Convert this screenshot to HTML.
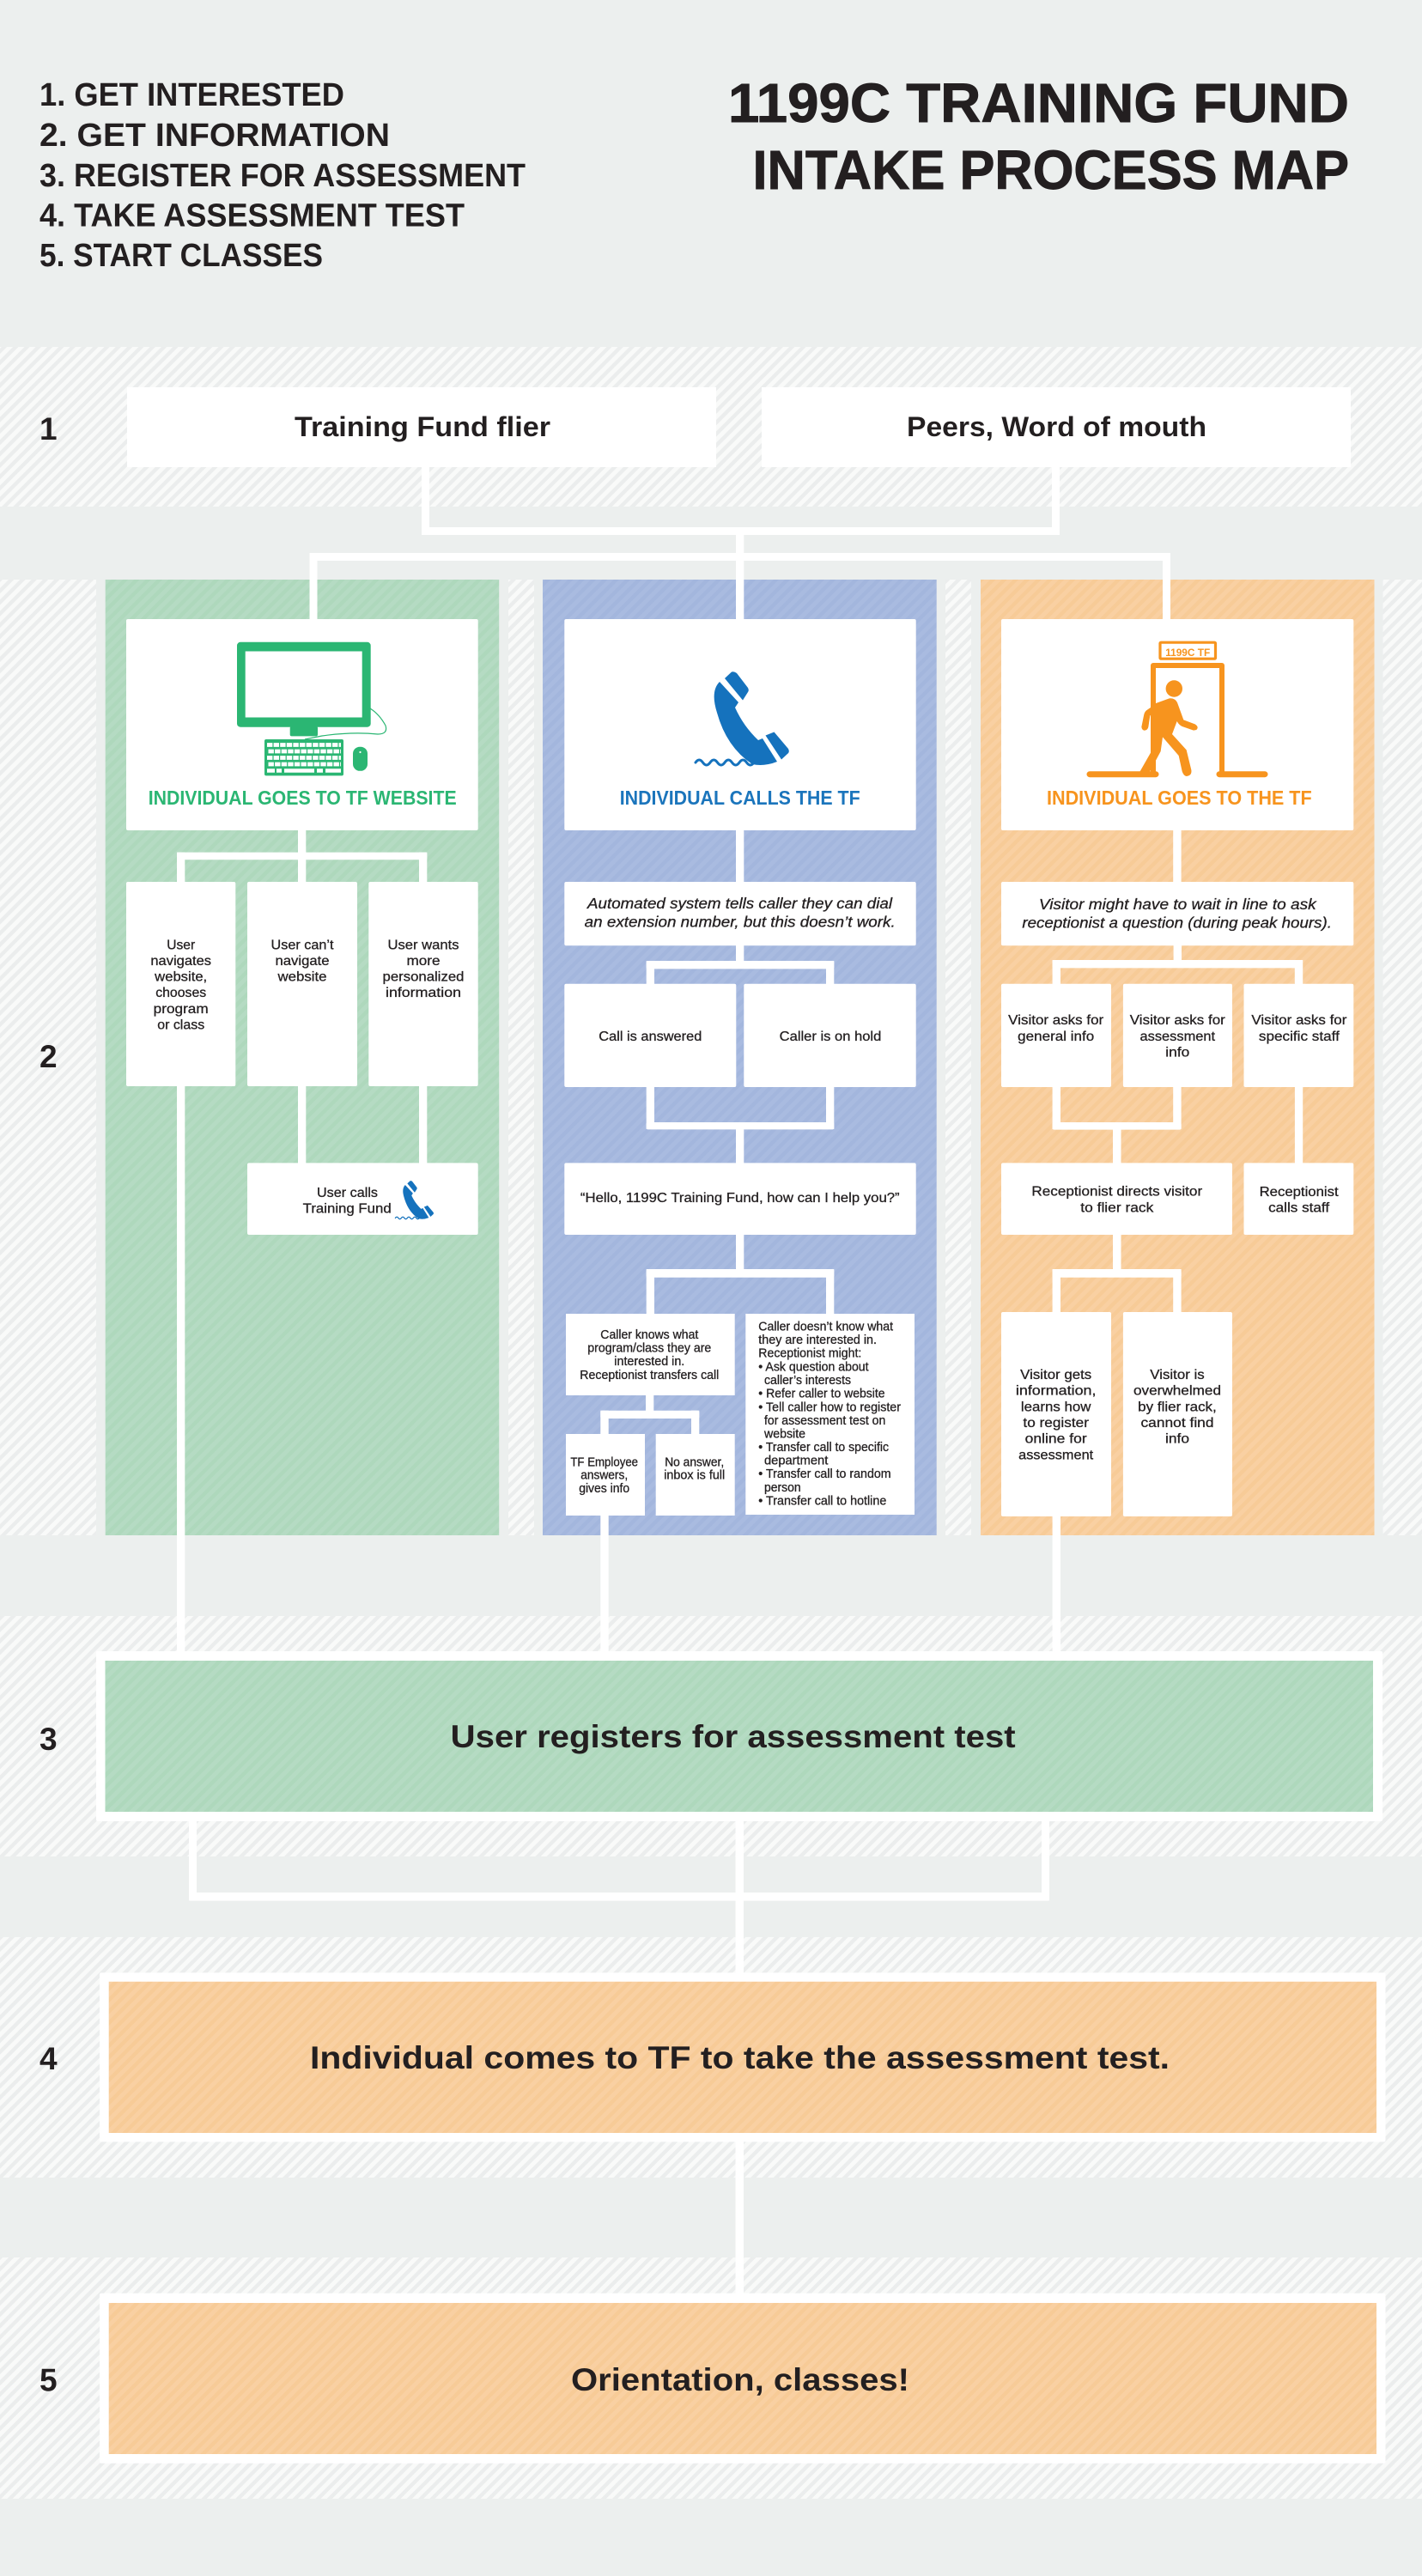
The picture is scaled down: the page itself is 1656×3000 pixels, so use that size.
<!DOCTYPE html>
<html><head><meta charset="utf-8"><title>1199C Training Fund Intake Process Map</title>
<style>
html,body{margin:0;padding:0;background:#ecefee}
svg{display:block}
text{font-family:"Liberation Sans",sans-serif;fill:#231f20}
.b{font-weight:700}
.s{font-size:16px;text-anchor:middle;stroke:#231f20;stroke-width:.3}
.t{font-size:14.5px;stroke:#231f20;stroke-width:.3}
.tm{font-size:14.5px;text-anchor:middle;stroke:#231f20;stroke-width:.3}
.i{font-size:17.5px;font-style:italic;stroke:#231f20;stroke-width:.3}
.h{font-size:38px;font-weight:700}
.n{font-size:37px;font-weight:700}
.tt{font-size:64px;font-weight:700;stroke:#231f20;stroke-width:.9}
.big{font-size:37px;font-weight:700;text-anchor:middle}
.m{font-size:32px;font-weight:700;text-anchor:middle}
.c{font-size:23.5px;font-weight:700}
</style></head><body>
<svg width="1656" height="3000" viewBox="0 0 1656 3000" xmlns="http://www.w3.org/2000/svg">
<defs>
<pattern id="h" width="9.4" height="9.4" patternUnits="userSpaceOnUse" patternTransform="rotate(45)"><rect width="9.4" height="9.4" fill="#ebeded"/><rect width="5" height="9.4" fill="#f9faf9"/></pattern>
<pattern id="g" width="9.4" height="9.4" patternUnits="userSpaceOnUse" patternTransform="rotate(45)"><rect width="9.4" height="9.4" fill="#aed8bc"/><rect width="5" height="9.4" fill="#b5dbc3"/></pattern>
<pattern id="u" width="9.4" height="9.4" patternUnits="userSpaceOnUse" patternTransform="rotate(45)"><rect width="9.4" height="9.4" fill="#a3b6dd"/><rect width="5" height="9.4" fill="#a9bbe0"/></pattern>
<pattern id="o" width="9.4" height="9.4" patternUnits="userSpaceOnUse" patternTransform="rotate(45)"><rect width="9.4" height="9.4" fill="#f7cb97"/><rect width="5" height="9.4" fill="#f9d0a2"/></pattern>
<g id="ph">
<path d="M844 790L852 782.5Q855 781.5 858 784L871 801Q872.5 804 871 806L865 815.5Z" fill="#1572bd"/>
<path d="M838 794L860 818L856 824Q866 846 883 862L888 860L905 887Q890 893 876 890Q846 870 835 830Q827 805 838 794Z" fill="#1572bd"/>
<path d="M891.5 856.5L901.5 852.5L918 872Q920 876 917 878L910 884.5Z" fill="#1572bd"/>
<path d="M810 888q4.25-6 8.5 0t8.5 0t8.5 0t8.5 0t8.5 0t8.5 0t8.5 0t8.5 0" fill="none" stroke="#1572bd" stroke-width="3" stroke-linecap="round"/>
</g>
</defs>
<rect width="1656" height="3000" fill="#ecefee"/>

<!-- bands -->
<g fill="url(#h)">
<rect x="0" y="404" width="1656" height="186"/>
<rect x="0" y="675" width="112" height="1113"/>
<rect x="592" y="675" width="30" height="1113"/>
<rect x="1101" y="675" width="30" height="1113"/>
<rect x="1610.5" y="675" width="45.5" height="1113"/>
<rect x="0" y="1882" width="1656" height="280"/>
<rect x="0" y="2256" width="1656" height="280"/>
<rect x="0" y="2629" width="1656" height="281"/>
</g>
<rect x="122.7" y="675" width="458.5" height="1113" fill="url(#g)"/>
<rect x="632" y="675" width="458.7" height="1113" fill="url(#u)"/>
<rect x="1142" y="675" width="458.5" height="1113" fill="url(#o)"/>

<!-- connectors -->
<g fill="#fff">
<rect x="491" y="544" width="9" height="79"/>
<rect x="1225" y="544" width="9" height="79"/>
<rect x="491" y="614" width="743" height="9" rx="1"/>
<rect x="857" y="623" width="9.3" height="98"/>
<rect x="360.5" y="644" width="1002.5" height="9" rx="1"/>
<rect x="360.5" y="644" width="9" height="77"/>
<rect x="1354" y="644" width="9" height="77"/>
<!-- green -->
<rect x="347" y="967" width="9.3" height="60"/>
<rect x="206" y="992.6" width="291.3" height="8.6" rx="2"/>
<rect x="206" y="992.6" width="9.3" height="34.4"/>
<rect x="488" y="992.6" width="9.3" height="34.4"/>
<rect x="206" y="1265" width="9.3" height="658"/>
<rect x="347" y="1265" width="9.3" height="90"/>
<rect x="488" y="1265" width="9.3" height="90"/>
<!-- blue -->
<rect x="857" y="967" width="9.3" height="60"/>
<rect x="857" y="1101" width="9.3" height="20"/>
<rect x="752.7" y="1119" width="218.6" height="9.4" rx="2"/>
<rect x="752.7" y="1119" width="9.3" height="27"/>
<rect x="962" y="1119" width="9.3" height="27"/>
<rect x="752.7" y="1266" width="9.3" height="49"/>
<rect x="962" y="1266" width="9.3" height="49"/>
<rect x="752.7" y="1307" width="218.6" height="8.4" rx="2"/>
<rect x="857" y="1315" width="9.3" height="40"/>
<rect x="857" y="1438" width="9.3" height="42"/>
<rect x="752.7" y="1478" width="218.6" height="9.7" rx="2"/>
<rect x="752.7" y="1478" width="9.3" height="52"/>
<rect x="962" y="1478" width="9.3" height="52"/>
<rect x="752" y="1625" width="9.3" height="20"/>
<rect x="699.3" y="1642.7" width="115" height="9.3" rx="2"/>
<rect x="699.3" y="1642.7" width="9.4" height="27.3"/>
<rect x="805" y="1642.7" width="9.3" height="27.3"/>
<rect x="699.3" y="1765" width="9.4" height="158"/>
<!-- orange -->
<rect x="1366.2" y="967" width="9.4" height="60"/>
<rect x="1366.6" y="1101" width="9.4" height="20"/>
<rect x="1225.6" y="1118" width="291.4" height="9.4" rx="2"/>
<rect x="1225.6" y="1118" width="9.4" height="28"/>
<rect x="1507.8" y="1118" width="9.4" height="28"/>
<rect x="1225.6" y="1266" width="9.4" height="49"/>
<rect x="1366.2" y="1266" width="9.4" height="49"/>
<rect x="1225.6" y="1307" width="150" height="8.6" rx="2"/>
<rect x="1296" y="1315" width="9.5" height="40"/>
<rect x="1507.9" y="1266" width="9.3" height="89"/>
<rect x="1296" y="1438" width="9.5" height="42"/>
<rect x="1225.6" y="1478" width="150" height="9.7" rx="2"/>
<rect x="1225.6" y="1478" width="9.4" height="51"/>
<rect x="1366.2" y="1478" width="9.4" height="51"/>
<rect x="1225.6" y="1766" width="9.4" height="157"/>
<!-- lower -->
<rect x="220" y="2121" width="9" height="92"/>
<rect x="1213" y="2121" width="9" height="92"/>
<rect x="220" y="2204" width="1002" height="9.6" rx="1"/>
<rect x="856.5" y="2121" width="9.5" height="177"/>
<rect x="856.5" y="2494" width="9.5" height="177"/>
</g>

<!-- frames -->
<rect x="112" y="1923" width="1498" height="198" fill="#fff" rx="2"/>
<rect x="122.5" y="1934" width="1476.5" height="176" fill="url(#g)"/>
<rect x="116" y="2297.4" width="1497.5" height="197" fill="#fff" rx="2"/>
<rect x="126.7" y="2307.8" width="1476.3" height="176.2" fill="url(#o)"/>
<rect x="116" y="2670.7" width="1497.5" height="198" fill="#fff" rx="2"/>
<rect x="126.7" y="2682" width="1476.3" height="176" fill="url(#o)"/>

<!-- white boxes -->
<g fill="#fff">
<rect x="148" y="451" width="686" height="93"/>
<rect x="887" y="451" width="686" height="93"/>
<rect x="147" y="721" width="409.7" height="246" rx="2"/>
<rect x="147" y="1027" width="127.3" height="238" rx="2"/>
<rect x="288" y="1027" width="128" height="238" rx="2"/>
<rect x="429.3" y="1027" width="127.4" height="238" rx="2"/>
<rect x="288" y="1354.4" width="268.7" height="83.6" rx="2"/>
<rect x="657.3" y="721" width="409.4" height="246" rx="2"/>
<rect x="657.3" y="1027" width="409.4" height="74.3" rx="2"/>
<rect x="657.3" y="1145.7" width="200" height="120.3" rx="2"/>
<rect x="866.3" y="1145.7" width="200.4" height="120.3" rx="2"/>
<rect x="657.3" y="1354.4" width="409.4" height="83.6" rx="2"/>
<rect x="659" y="1530" width="196.7" height="95"/>
<rect x="868.3" y="1530" width="196.7" height="234"/>
<rect x="659" y="1670" width="92" height="95"/>
<rect x="763.7" y="1670" width="92" height="95"/>
<rect x="1166" y="721" width="410.3" height="246" rx="2"/>
<rect x="1166" y="1027" width="410.3" height="74.3" rx="2"/>
<rect x="1166" y="1145.7" width="128" height="120.3" rx="2"/>
<rect x="1307.9" y="1145.7" width="127.1" height="120.3" rx="2"/>
<rect x="1448.5" y="1145.7" width="127.8" height="120.3" rx="2"/>
<rect x="1166" y="1354.4" width="269" height="83.6" rx="2"/>
<rect x="1448.5" y="1354.4" width="127.8" height="83.6" rx="2"/>
<rect x="1166" y="1528" width="128" height="238" rx="2"/>
<rect x="1307.9" y="1528" width="127.1" height="238" rx="2"/>
</g>

<!-- computer icon -->
<rect x="276" y="747.8" width="155.7" height="98.9" rx="4" fill="#2bb673"/>
<rect x="285.7" y="758.5" width="136" height="77" fill="#fff"/>
<rect x="337.7" y="846" width="32.3" height="11.4" rx="2" fill="#2bb673"/>
<path d="M431 825Q442 832 449 845Q452 855 440 855Q410 852 375 857Q365 859 355 861" fill="none" stroke="#2bb673" stroke-width="1.2"/>
<rect x="308" y="861" width="92" height="42.4" rx="2" fill="#2bb673"/>
<g stroke="#fff" stroke-width="4.8" stroke-dasharray="6.4 1.2" fill="none">
<path d="M311 867.5H397"/><path d="M312.5 875H397"/><path d="M311 882.5H397"/><path d="M312.5 890H397"/>
</g>
<path d="M311 897.5H320M322 897.5H328M331 897.5H366M369 897.5H376M379 897.5H397" stroke="#fff" stroke-width="4.4" fill="none"/>
<rect x="411" y="869.7" width="17" height="28.1" rx="8" fill="#2bb673"/>
<circle cx="419.5" cy="876" r="1.1" fill="#fff"/>

<!-- phones -->
<use href="#ph"/>
<use href="#ph" transform="translate(128.3 1054.4) scale(.41)"/>

<!-- door icon -->
<g fill="none" stroke="#f7941e">
<rect x="1351" y="748.2" width="64.5" height="19" stroke-width="3.2" rx="1"/>
<path d="M1343 905V775H1423V905" stroke-width="6" stroke-linejoin="round"/>
<path d="M1269 901.7H1346M1420 901.7H1473" stroke-width="7" stroke-linecap="round"/>
</g>
<text x="1383.2" y="763.8" text-anchor="middle" font-size="12" font-weight="700" textLength="52" lengthAdjust="spacingAndGlyphs" style="fill:#f7941e">1199C TF</text>
<circle cx="1367.3" cy="802" r="9.7" fill="#f7941e"/>
<g transform="translate(1250 740) scale(.33333)" fill="#f7941e">
<path d="M280 240L335 220Q358 218 365 240L385 295L425 310Q440 320 430 330L420 332L380 318Q368 312 362 300L345 345L395 400L412 470Q415 490 395 492Q385 490 380 475L368 420L312 355L305 405L265 480L230 480L270 410L280 350Z"/>
<path d="M280 245L255 262Q248 268 246 280L238 320Q240 333 250 332Q260 330 262 320L268 280L285 268Z"/>
</g>

<!-- header -->
<g class="h">
<text class="h" x="46" y="123" textLength="355" lengthAdjust="spacingAndGlyphs">1. GET INTERESTED</text>
<text class="h" x="46" y="170" textLength="408" lengthAdjust="spacingAndGlyphs">2. GET INFORMATION</text>
<text class="h" x="46" y="217" textLength="566" lengthAdjust="spacingAndGlyphs">3. REGISTER FOR ASSESSMENT</text>
<text class="h" x="46" y="263.5" textLength="495" lengthAdjust="spacingAndGlyphs">4. TAKE ASSESSMENT TEST</text>
<text class="h" x="46" y="310" textLength="330" lengthAdjust="spacingAndGlyphs">5. START CLASSES</text>
</g>
<text class="tt" x="848" y="142" textLength="723" lengthAdjust="spacingAndGlyphs">1199C TRAINING FUND</text>
<text class="tt" x="876.5" y="220" textLength="694.5" lengthAdjust="spacingAndGlyphs">INTAKE PROCESS MAP</text>

<!-- row numbers -->
<text class="n" x="46" y="512">1</text>
<text class="n" x="46" y="1243">2</text>
<text class="n" x="46" y="2038">3</text>
<text class="n" x="46" y="2410">4</text>
<text class="n" x="46" y="2784.6">5</text>

<!-- row 1 -->
<text class="m" x="492" y="508" textLength="298" lengthAdjust="spacingAndGlyphs">Training Fund flier</text>
<text class="m" x="1230.5" y="508" textLength="349" lengthAdjust="spacingAndGlyphs">Peers, Word of mouth</text>

<!-- captions -->
<text class="c" x="172.7" y="937" textLength="359" lengthAdjust="spacingAndGlyphs" style="fill:#2bb673">INDIVIDUAL GOES TO TF WEBSITE</text>
<text class="c" x="721.7" y="937" textLength="280" lengthAdjust="spacingAndGlyphs" style="fill:#1b75bc">INDIVIDUAL CALLS THE TF</text>
<text class="c" x="1219" y="937" textLength="308.7" lengthAdjust="spacingAndGlyphs" style="fill:#f7941e">INDIVIDUAL GOES TO THE TF</text>

<!-- green text -->
<text class="s" x="210.7" y="1105.4" textLength="33" lengthAdjust="spacingAndGlyphs">User</text>
<text class="s" x="210.7" y="1124" textLength="70.7" lengthAdjust="spacingAndGlyphs">navigates</text>
<text class="s" x="210.7" y="1142.6" textLength="61" lengthAdjust="spacingAndGlyphs">website,</text>
<text class="s" x="210.7" y="1161.2" textLength="59" lengthAdjust="spacingAndGlyphs">chooses</text>
<text class="s" x="210.7" y="1179.8" textLength="64" lengthAdjust="spacingAndGlyphs">program</text>
<text class="s" x="210.7" y="1198.4" textLength="55" lengthAdjust="spacingAndGlyphs">or class</text>
<text class="s" x="352" y="1105.4" textLength="73" lengthAdjust="spacingAndGlyphs">User can’t</text>
<text class="s" x="352" y="1124" textLength="63" lengthAdjust="spacingAndGlyphs">navigate</text>
<text class="s" x="352" y="1142.6" textLength="57" lengthAdjust="spacingAndGlyphs">website</text>
<text class="s" x="493" y="1105.4" textLength="83" lengthAdjust="spacingAndGlyphs">User wants</text>
<text class="s" x="493" y="1124" textLength="39" lengthAdjust="spacingAndGlyphs">more</text>
<text class="s" x="493" y="1142.6" textLength="95" lengthAdjust="spacingAndGlyphs">personalized</text>
<text class="s" x="493" y="1161.2" textLength="88" lengthAdjust="spacingAndGlyphs">information</text>
<text class="s" x="404.5" y="1394" textLength="71" lengthAdjust="spacingAndGlyphs">User calls</text>
<text class="s" x="404.2" y="1412.7" textLength="103" lengthAdjust="spacingAndGlyphs">Training Fund</text>

<!-- blue text -->
<text class="i" x="684" y="1058" textLength="355" lengthAdjust="spacingAndGlyphs">Automated system tells caller they can dial</text>
<text class="i" x="680.7" y="1079.4" textLength="362" lengthAdjust="spacingAndGlyphs">an extension number, but this doesn’t work.</text>
<text class="s" x="757.3" y="1212" textLength="120" lengthAdjust="spacingAndGlyphs">Call is answered</text>
<text class="s" x="967" y="1212" textLength="118.6" lengthAdjust="spacingAndGlyphs">Caller is on hold</text>
<text class="s" x="861.8" y="1400" textLength="371.7" lengthAdjust="spacingAndGlyphs">“Hello, 1199C Training Fund, how can I help  you?”</text>
<text class="tm" x="756.3" y="1559" textLength="114" lengthAdjust="spacingAndGlyphs">Caller knows what</text>
<text class="tm" x="756.3" y="1574.6" textLength="144" lengthAdjust="spacingAndGlyphs">program/class they are</text>
<text class="tm" x="756.3" y="1590.2" textLength="82" lengthAdjust="spacingAndGlyphs">interested in.</text>
<text class="tm" x="756.3" y="1605.8" textLength="162" lengthAdjust="spacingAndGlyphs">Receptionist transfers call</text>
<text class="tm" x="703.7" y="1707.3" textLength="78.7" lengthAdjust="spacingAndGlyphs">TF Employee</text>
<text class="tm" x="703.7" y="1722.7" textLength="55" lengthAdjust="spacingAndGlyphs">answers,</text>
<text class="tm" x="703.7" y="1738" textLength="59" lengthAdjust="spacingAndGlyphs">gives info</text>
<text class="tm" x="808.7" y="1707.3" textLength="69" lengthAdjust="spacingAndGlyphs">No answer,</text>
<text class="tm" x="808.7" y="1722.7" textLength="71" lengthAdjust="spacingAndGlyphs">inbox is full</text>
<text class="t" x="883.3" y="1549.3" textLength="156.7" lengthAdjust="spacingAndGlyphs">Caller doesn’t know what</text>
<text class="t" x="883.3" y="1565" textLength="137.7" lengthAdjust="spacingAndGlyphs">they are interested in.</text>
<text class="t" x="883.3" y="1580.7" textLength="120" lengthAdjust="spacingAndGlyphs">Receptionist might:</text>
<text class="t" x="883.3" y="1596.3" textLength="128.3" lengthAdjust="spacingAndGlyphs">• Ask question about</text>
<text class="t" x="890" y="1612" textLength="101" lengthAdjust="spacingAndGlyphs">caller’s interests</text>
<text class="t" x="883.3" y="1627.7" textLength="147.3" lengthAdjust="spacingAndGlyphs">• Refer caller to website</text>
<text class="t" x="883.3" y="1643.3" textLength="165.7" lengthAdjust="spacingAndGlyphs">• Tell caller how to register</text>
<text class="t" x="890" y="1659" textLength="141.3" lengthAdjust="spacingAndGlyphs">for assessment test on</text>
<text class="t" x="890" y="1674.3" textLength="48" lengthAdjust="spacingAndGlyphs">website</text>
<text class="t" x="883.3" y="1690" textLength="151.7" lengthAdjust="spacingAndGlyphs">• Transfer call to specific</text>
<text class="t" x="890" y="1705.7" textLength="74.3" lengthAdjust="spacingAndGlyphs">department</text>
<text class="t" x="883.3" y="1721" textLength="154.3" lengthAdjust="spacingAndGlyphs">• Transfer call to random</text>
<text class="t" x="890" y="1737" textLength="42.7" lengthAdjust="spacingAndGlyphs">person</text>
<text class="t" x="883.3" y="1752.3" textLength="149" lengthAdjust="spacingAndGlyphs">• Transfer call to hotline</text>

<!-- orange text -->
<text class="i" x="1209.9" y="1059" textLength="322.8" lengthAdjust="spacingAndGlyphs">Visitor might have to wait in line to ask</text>
<text class="i" x="1190.4" y="1080.4" textLength="360.6" lengthAdjust="spacingAndGlyphs">receptionist a question (during peak hours).</text>
<text class="s" x="1229.7" y="1193" textLength="111" lengthAdjust="spacingAndGlyphs">Visitor asks for</text>
<text class="s" x="1229.7" y="1212" textLength="89" lengthAdjust="spacingAndGlyphs">general info</text>
<text class="s" x="1371.3" y="1193" textLength="111" lengthAdjust="spacingAndGlyphs">Visitor asks for</text>
<text class="s" x="1371.3" y="1212" textLength="87.6" lengthAdjust="spacingAndGlyphs">assessment</text>
<text class="s" x="1371.3" y="1230.4" textLength="28" lengthAdjust="spacingAndGlyphs">info</text>
<text class="s" x="1512.9" y="1193" textLength="111" lengthAdjust="spacingAndGlyphs">Visitor asks for</text>
<text class="s" x="1512.9" y="1212" textLength="94" lengthAdjust="spacingAndGlyphs">specific staff</text>
<text class="s" x="1300.8" y="1392.7" textLength="198.7" lengthAdjust="spacingAndGlyphs">Receptionist directs visitor</text>
<text class="s" x="1300.8" y="1411.5" textLength="85" lengthAdjust="spacingAndGlyphs">to flier rack</text>
<text class="s" x="1512.6" y="1393" textLength="92" lengthAdjust="spacingAndGlyphs">Receptionist</text>
<text class="s" x="1512.6" y="1411.5" textLength="71" lengthAdjust="spacingAndGlyphs">calls staff</text>
<text class="s" x="1229.7" y="1606" textLength="83" lengthAdjust="spacingAndGlyphs">Visitor gets</text>
<text class="s" x="1229.7" y="1624.7" textLength="93.6" lengthAdjust="spacingAndGlyphs">information,</text>
<text class="s" x="1229.7" y="1643.3" textLength="81.5" lengthAdjust="spacingAndGlyphs">learns how</text>
<text class="s" x="1229.7" y="1662" textLength="76.5" lengthAdjust="spacingAndGlyphs">to register</text>
<text class="s" x="1229.7" y="1680.7" textLength="72" lengthAdjust="spacingAndGlyphs">online for</text>
<text class="s" x="1229.7" y="1699.3" textLength="87" lengthAdjust="spacingAndGlyphs">assessment</text>
<text class="s" x="1371" y="1606" textLength="63.4" lengthAdjust="spacingAndGlyphs">Visitor is</text>
<text class="s" x="1371" y="1624.7" textLength="102" lengthAdjust="spacingAndGlyphs">overwhelmed</text>
<text class="s" x="1371" y="1643.3" textLength="91.6" lengthAdjust="spacingAndGlyphs">by flier rack,</text>
<text class="s" x="1371" y="1662" textLength="85" lengthAdjust="spacingAndGlyphs">cannot find</text>
<text class="s" x="1371" y="1680.7" textLength="28" lengthAdjust="spacingAndGlyphs">info</text>

<!-- big labels -->
<text class="big" x="853.7" y="2035" textLength="658" lengthAdjust="spacingAndGlyphs">User registers for assessment test</text>
<text class="big" x="861.5" y="2409" textLength="1001" lengthAdjust="spacingAndGlyphs">Individual comes  to TF to take the assessment test.</text>
<text class="big" x="862" y="2784" textLength="394" lengthAdjust="spacingAndGlyphs">Orientation, classes!</text>
</svg>
</body></html>
